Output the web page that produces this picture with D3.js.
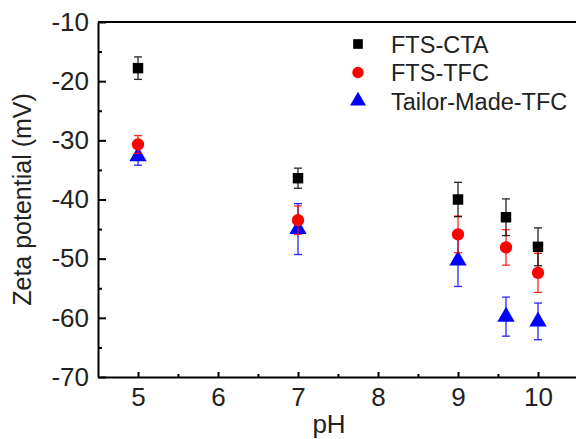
<!doctype html>
<html>
<head>
<meta charset="utf-8">
<script src="https://d3js.org/d3.v7.min.js"></script>
<style>
body { margin: 0; background: #fff; }
text { font-family: "Liberation Sans", Arial, sans-serif; }
</style>
</head>
<body>
<svg width="576" height="439" id="chart"></svg>
<script>
// data
var series = ["FTS-CTA", "FTS-TFC", "Tailor-Made-TFC"];
var colors = ["#000000", "#ff0000", "#0000ff"];
var ph = [5, 7, 9, 9.6, 10];
var ctaVal = [-17.8, -36.4, -40.0, -43.0, -48.0];
var ctaErr = [1.9, 1.7, 2.9, 3.1, 3.2];
var tfcVal = [-30.7, -43.5, -45.9, -48.1, -52.4];
var tfcErr = [1.5, 2.4, 3.1, 3.0, 3.3];
var tmVal = [-32.7, -45.0, -50.3, -59.8, -60.6];
var tmErr = [1.5, 4.3, 4.4, 3.3, 3.1];
var xTicks = [5, 6, 7, 8, 9, 10];
var yTicks = [-10, -20, -30, -40, -50, -60, -70];

var svg = d3.select("#chart");
var mLeft = 98, mTop = 22, mBottom = 377, mRight = 578;
var fontFam = "'Liberation Sans', Arial, sans-serif";

var x = d3.scaleLinear().domain([4.5, 10.5]).range([mLeft, mRight]);
var y = d3.scaleLinear().domain([-10, -70]).range([mTop, mBottom]);

// frame top line
svg.append("line")
  .attr("x1", mLeft).attr("x2", mRight)
  .attr("y1", mTop).attr("y2", mTop)
  .attr("stroke", "#000").attr("stroke-width", 2);

// minor ticks
var xAxisMinor = d3.axisBottom(x).tickValues(d3.range(5.5, 10.5, 1)).tickSize(-3).tickFormat("");
svg.append("g").attr("transform", "translate(0," + mBottom + ")").call(xAxisMinor)
  .call(function(g) { g.select(".domain").remove(); g.selectAll("line").attr("stroke-width", 2); });
var yAxisMinor = d3.axisLeft(y).tickValues(d3.range(-15, -70, -10)).tickSize(-4).tickFormat("");
svg.append("g").attr("transform", "translate(" + mLeft + ",0)").call(yAxisMinor)
  .call(function(g) { g.select(".domain").remove(); g.selectAll("line").attr("stroke-width", 2); });

// main axes (plain hyphen for negatives, like the original)
var plain = function(d) { return String(d); };
var xAxis = d3.axisBottom(x).tickValues(xTicks).tickSizeInner(-5).tickSizeOuter(0).tickPadding(11).tickFormat(plain);
var gx = svg.append("g").attr("transform", "translate(0," + mBottom + ")").call(xAxis);
gx.select(".domain").attr("stroke-width", 2);
gx.selectAll("line").attr("stroke-width", 2);
gx.selectAll("text").attr("font-size", 26).attr("fill", "#222").style("font-family", fontFam);

var yAxis = d3.axisLeft(y).tickValues(yTicks).tickSizeInner(-8).tickSizeOuter(0).tickPadding(9).tickFormat(plain);
var gy = svg.append("g").attr("transform", "translate(" + mLeft + ",0)").call(yAxis);
gy.select(".domain").attr("stroke-width", 2);
gy.selectAll("line").attr("stroke-width", 2);
gy.selectAll("text").attr("font-size", 26).attr("fill", "#222").style("font-family", fontFam);

// axis titles
svg.append("text").attr("x", 329).attr("y", 433)
  .attr("text-anchor", "middle").attr("font-size", 26).attr("fill", "#222").text("pH");
svg.append("text")
  .attr("transform", "translate(31," + y(-40) + ") rotate(-90)")
  .attr("text-anchor", "middle").attr("font-size", 25).attr("fill", "#222")
  .text("Zeta potential (mV)");

var symbols = [d3.symbolSquare, d3.symbolCircle, d3.symbolTriangle];
var sizes = [110, 120, 130];
var vals = [ctaVal, tfcVal, tmVal];
var errs = [ctaErr, tfcErr, tmErr];

// draw series, last first so black sits on top
[2, 1, 0].forEach(function(s) {
  var data = ph.map(function(p, i) { return { x: p, v: vals[s][i], e: errs[s][i] }; });
  var g = svg.append("g");
  var bars = g.selectAll("g.err").data(data).enter().append("g").attr("class", "err")
    .attr("stroke", colors[s]).attr("stroke-width", 1.3).attr("opacity", 0.85);
  bars.append("line")
    .attr("x1", function(d) { return x(d.x); }).attr("x2", function(d) { return x(d.x); })
    .attr("y1", function(d) { return y(d.v + d.e); }).attr("y2", function(d) { return y(d.v - d.e); });
  bars.append("line")
    .attr("x1", function(d) { return x(d.x) - 4; }).attr("x2", function(d) { return x(d.x) + 4; })
    .attr("y1", function(d) { return y(d.v + d.e); }).attr("y2", function(d) { return y(d.v + d.e); });
  bars.append("line")
    .attr("x1", function(d) { return x(d.x) - 4; }).attr("x2", function(d) { return x(d.x) + 4; })
    .attr("y1", function(d) { return y(d.v - d.e); }).attr("y2", function(d) { return y(d.v - d.e); });
  g.selectAll("path").data(data).enter().append("path")
    .attr("d", d3.symbol().type(symbols[s]).size(sizes[s]))
    .attr("transform", function(d) { return "translate(" + x(d.x) + "," + y(d.v) + ")"; })
    .attr("fill", colors[s]);
});

// legend
var legend = svg.append("g");
series.forEach(function(name, i) {
  var ly = 44 + i * 28.5;
  legend.append("path")
    .attr("d", d3.symbol().type(symbols[i]).size(sizes[i] * 0.85))
    .attr("transform", "translate(358," + ly + ")")
    .attr("fill", colors[i]);
  legend.append("text").attr("x", 391).attr("y", ly + 8.5)
    .attr("font-size", 23.5).attr("fill", "#222").text(name);
});
</script>
</body>
</html>
